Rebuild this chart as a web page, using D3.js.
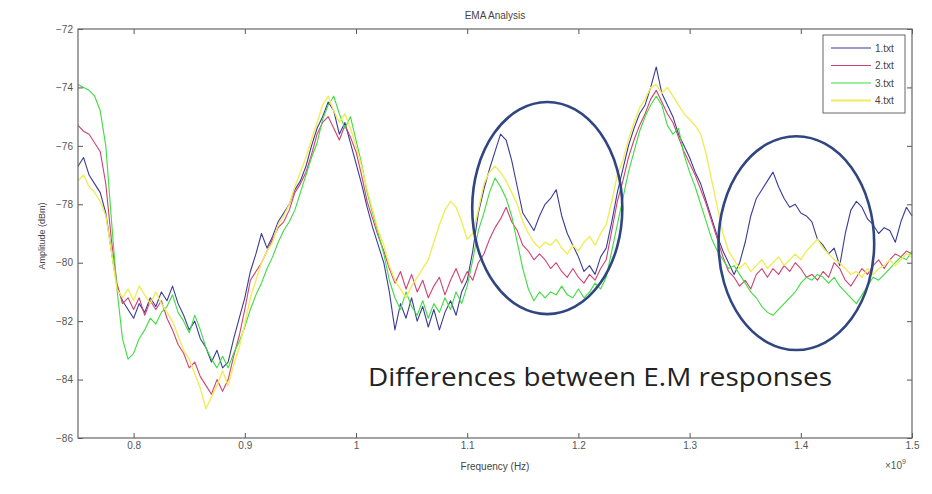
<!DOCTYPE html>
<html>
<head>
<meta charset="utf-8">
<script src="https://cdn.jsdelivr.net/npm/d3@7"></script>
<style>
body { margin: 0; background: #fff; }
text { font-family: "Liberation Sans", Arial, sans-serif; }
</style>
</head>
<body>
<svg id="chart"></svg>
<script>
var w = 932;
var h = 494;

// sampling grid, GHz (shown as x10^9 Hz)
var freqStart = 0.75;
var freqStep = 0.005;

var seriesNames = ['1.txt', '2.txt', '3.txt', '4.txt'];
var seriesColors = ['#3b3b98', '#cf4270', '#3fdc3f', '#f0ec5c'];

var xTicks = [0.8, 0.9, 1, 1.1, 1.2, 1.3, 1.4, 1.5];
var yTicks = [-72, -74, -76, -78, -80, -82, -84, -86];

var s1 = [
  -76.7, -76.4, -77.0, -77.3, -77.6, -78.3, -79.6, -80.8, -81.3, -81.6,
  -81.9, -81.4, -81.7, -81.2, -81.5, -81.0, -81.3, -80.8, -81.4, -81.8,
  -82.3, -82.0, -82.6, -82.9, -83.4, -83.0, -83.6, -83.4, -82.6, -81.9,
  -81.2, -80.3, -79.7, -79.0, -79.5, -79.1, -78.6, -78.3, -78.0, -77.5,
  -77.2, -76.7, -76.0, -75.4, -75.0, -74.5, -74.8, -75.6, -75.2, -75.9,
  -76.6, -77.3, -78.1, -78.8, -79.4, -80.0, -81.0, -82.3, -81.4, -81.9,
  -81.2, -82.0, -81.5, -82.2, -81.6, -82.3, -81.7, -81.3, -81.8, -81.0,
  -80.6, -79.6, -78.3, -77.5, -76.8, -76.2, -75.6, -75.8, -76.5, -77.4,
  -78.3, -78.6, -78.9, -78.4, -78.0, -77.8, -77.5, -78.4, -79.0, -79.4,
  -79.8, -80.3, -80.1, -80.4, -79.8, -79.5, -78.6, -77.6, -76.8, -76.0,
  -75.4, -74.9, -74.6, -74.0, -73.3, -74.2, -74.6, -75.0, -75.6, -76.0,
  -76.4, -76.9, -77.3, -77.9, -78.5, -79.1, -79.6, -80.0, -80.4, -80.0,
  -79.3, -78.4, -77.8, -77.5, -77.2, -76.9, -77.4, -77.8, -78.1, -78.0,
  -78.3, -78.4, -78.6, -79.2, -79.4, -79.7, -79.5, -80.1, -79.0, -78.2,
  -77.9, -78.1, -78.5, -78.7, -79.0, -78.8, -78.9, -79.3, -78.6, -78.1, -78.4
];

var s2 = [
  -75.3, -75.5, -75.6, -75.9, -76.2, -77.3, -79.2, -80.7, -81.4, -81.2,
  -81.6, -81.2, -81.8, -81.3, -81.6, -81.3, -81.9, -82.3, -82.8, -83.1,
  -83.6, -83.4, -83.9, -84.2, -84.5, -84.0, -84.4, -84.0, -83.2, -82.5,
  -81.6, -80.6, -80.3, -80.0, -79.6, -79.2, -78.8, -78.6, -78.2, -77.6,
  -77.3, -76.9, -76.3, -75.6, -75.2, -75.0, -75.4, -75.8, -75.3, -75.7,
  -76.2, -77.0, -77.9, -78.5, -79.1, -79.6, -80.2, -80.7, -80.3, -80.9,
  -80.4, -81.0, -80.6, -81.2, -80.8, -80.5, -81.1, -80.6, -80.2, -80.7,
  -80.3, -80.6, -80.0, -79.7, -79.2, -78.8, -78.5, -78.1, -78.6, -78.9,
  -79.4, -79.6, -79.9, -79.7, -79.9, -80.2, -80.0, -80.3, -80.5, -80.2,
  -80.5, -80.7, -80.4, -80.6, -80.2, -79.9, -78.9, -77.9, -77.2, -76.4,
  -75.8, -75.3, -74.9, -74.4, -74.1, -74.5, -74.9, -75.2, -75.7, -76.2,
  -76.6, -77.0, -77.5, -78.0, -78.6, -79.2, -79.8, -80.3, -80.5, -80.8,
  -80.6, -80.9, -80.4, -80.2, -80.5, -80.2, -80.4, -80.1, -80.3, -80.0,
  -80.2, -80.5, -80.4, -80.6, -80.3, -80.5, -80.0, -80.2, -80.6, -80.8,
  -80.5, -80.2, -80.4, -80.1, -79.9, -80.2, -79.9, -79.7, -79.8, -79.6, -79.7
];

var s3 = [
  -73.9, -74.0, -74.1, -74.3, -74.8, -76.0, -78.5, -80.9, -82.6, -83.3,
  -83.1, -82.6, -82.3, -81.9, -82.1, -81.7, -81.5, -81.1, -81.7, -82.0,
  -82.4, -81.8, -82.3, -82.9, -83.3, -83.6, -83.2, -83.6, -83.1, -82.7,
  -82.2, -81.6, -81.1, -80.7, -80.2, -79.8, -79.3, -78.9, -78.6, -78.2,
  -77.6, -77.0, -76.4, -75.9, -75.1, -74.6, -74.3, -74.9, -75.4, -75.0,
  -75.8, -76.6, -77.6, -78.3, -79.0, -79.7, -80.6, -81.2, -81.6, -81.0,
  -81.5, -81.8, -81.3, -81.9, -81.4, -81.7, -81.2, -81.6, -81.0, -81.4,
  -80.8, -79.9, -78.9, -78.3, -77.6, -77.1, -77.4, -77.8, -78.4, -79.3,
  -80.2, -80.9, -81.3, -81.0, -81.2, -81.0, -81.1, -80.8, -81.1, -81.2,
  -80.9, -81.2, -81.0, -80.7, -80.9, -80.5, -79.6, -78.7, -77.8, -76.9,
  -76.2, -75.5, -75.0, -74.6, -74.3, -74.6, -75.3, -75.6, -75.4, -76.3,
  -76.9, -77.4, -78.0, -78.6, -79.2, -79.6, -79.9, -80.2, -80.1, -80.4,
  -80.7, -81.0, -81.2, -81.5, -81.7, -81.8, -81.6, -81.4, -81.2, -81.0,
  -80.7, -80.5, -80.6, -80.4, -80.5, -80.7, -80.5, -80.8, -81.0, -81.2,
  -81.4, -81.1, -80.8, -80.5, -80.6, -80.4, -80.2, -80.0, -79.8, -79.9, -79.6
];

var s4 = [
  -77.2, -77.0, -77.4, -77.6, -77.9, -78.4, -79.6, -80.9, -81.2, -80.9,
  -81.3, -80.8, -81.1, -81.4, -81.0, -81.4, -81.7, -82.0, -82.5, -83.0,
  -83.3, -83.8, -84.3, -85.0, -84.6, -84.2, -83.7, -84.2, -83.5, -82.9,
  -82.1, -81.2, -80.6, -80.0, -79.6, -79.3, -78.7, -78.4, -78.0, -77.4,
  -76.9, -76.4, -75.8, -75.2, -74.6, -74.3, -74.8, -75.2, -74.9, -75.4,
  -76.0, -76.7, -77.5, -78.2, -78.9, -79.4, -80.1, -80.6, -80.9, -81.2,
  -80.8, -80.5, -80.2, -79.9, -79.3, -78.7, -78.2, -77.9, -78.1, -78.6,
  -79.2, -79.0, -78.2, -77.3, -76.9, -76.7, -76.9, -77.2, -77.6, -78.0,
  -78.6, -79.0, -79.3, -79.5, -79.3, -79.4, -79.2, -79.5, -79.7, -79.4,
  -79.6, -79.3, -79.1, -79.4, -79.0, -78.7, -77.9, -77.0, -76.5, -75.8,
  -75.2, -74.7, -74.4, -74.0, -73.9, -74.2, -74.0, -74.3, -74.6, -74.9,
  -75.1, -75.3, -75.6, -76.3, -77.2, -78.1, -79.0, -79.6, -79.9, -80.2,
  -80.0, -80.3, -80.1, -79.9, -80.2, -80.0, -79.8, -80.1, -79.9, -79.7,
  -79.9, -79.6, -79.4, -79.2, -79.5, -79.7, -79.9, -80.0, -80.2, -80.4,
  -80.3, -80.5, -80.2, -80.4, -80.2, -80.1, -79.9, -80.1, -79.9, -79.7, -79.8
];

// annotation ellipses, in data units: [centre freq, centre dBm, half width, half height]
var marks = [
  [1.172, -78.13, 0.0675, 3.63],
  [1.396, -79.33, 0.070, 3.66]
];

var allSeries = [s1, s2, s3, s4];

var svg = d3.select('#chart')
  .attr('width', w)
  .attr('height', h);

svg.append('rect').attr('width', w).attr('height', h).attr('fill', '#fff');

var padL = 78, padR = 912, padT = 29, padB = 438;

var x = d3.scaleLinear().domain([0.75, 1.5]).range([padL, padR]);
var y = d3.scaleLinear().domain([-86, -72]).range([padB, padT]);

var line = d3.line()
  .x(function (d, i) { return x(freqStart + i * freqStep); })
  .y(function (d) { return y(d); });

var plot = svg.append('g');

plot.selectAll('path.trace')
  .data(allSeries)
.enter().append('path')
  .attr('class', 'trace')
  .attr('d', line)
  .attr('fill', 'none')
  .attr('stroke', function (d, i) { return seriesColors[i]; })
  .attr('stroke-width', function (d, i) { return i === 3 ? 1.4 : 1.1; })
  .attr('stroke-linejoin', 'round');

// axes, ticks pointing inwards like matlab
function styleAxis(g) {
  g.select('.domain').remove();
  g.selectAll('line').attr('stroke', '#555');
  g.selectAll('text').attr('fill', '#555').style('font-size', '10px');
}

svg.append('g')
  .attr('transform', 'translate(0,' + padB + ')')
  .call(d3.axisBottom(x).tickValues(xTicks).tickSize(-5).tickPadding(4).tickFormat(d3.format('')))
  .call(styleAxis);

svg.append('g')
  .attr('transform', 'translate(0,' + padT + ')')
  .call(d3.axisTop(x).tickValues(xTicks).tickSize(-5).tickFormat(''))
  .call(styleAxis);

svg.append('g')
  .attr('transform', 'translate(' + padL + ',0)')
  .call(d3.axisLeft(y).tickValues(yTicks).tickSize(-5).tickPadding(5))
  .call(styleAxis);

svg.append('g')
  .attr('transform', 'translate(' + padR + ',0)')
  .call(d3.axisRight(y).tickValues(yTicks).tickSize(-5).tickFormat(''))
  .call(styleAxis);

svg.append('rect')
  .attr('x', padL).attr('y', padT)
  .attr('width', padR - padL).attr('height', padB - padT)
  .attr('fill', 'none').attr('stroke', '#666').attr('stroke-width', 1.2);

// titles
svg.append('text')
  .attr('x', (padL + padR) / 2).attr('y', 19)
  .attr('text-anchor', 'middle').attr('fill', '#444')
  .style('font-size', '10px')
  .text('EMA Analysis');

svg.append('text')
  .attr('x', (padL + padR) / 2).attr('y', 470)
  .attr('text-anchor', 'middle').attr('fill', '#444')
  .style('font-size', '10px')
  .text('Frequency (Hz)');

svg.append('text')
  .attr('transform', 'translate(45,236) rotate(-90)')
  .attr('text-anchor', 'middle').attr('fill', '#444')
  .style('font-size', '9px')
  .text('Amplitude (dBm)');

var expo = svg.append('text')
  .attr('x', 885).attr('y', 469)
  .attr('fill', '#555')
  .style('font-size', '10px');
expo.append('tspan').text('\u00d710');
expo.append('tspan').attr('dy', -5).style('font-size', '7px').text('9');

// legend
var legend = svg.append('g').attr('transform', 'translate(823,35)');
legend.append('rect')
  .attr('width', 82).attr('height', 78)
  .attr('fill', '#fff').attr('stroke', '#666');

var items = legend.selectAll('g.item')
  .data(seriesNames)
.enter().append('g')
  .attr('class', 'item')
  .attr('transform', function (d, i) { return 'translate(0,' + (13 + i * 17.5) + ')'; });

items.append('line')
  .attr('x1', 8).attr('x2', 48)
  .attr('stroke', function (d, i) { return seriesColors[i]; })
  .attr('stroke-width', function (d, i) { return i === 3 ? 2 : 1.2; });

items.append('text')
  .attr('x', 52).attr('dy', '0.35em')
  .attr('fill', '#444')
  .style('font-size', '10px')
  .text(function (d) { return d; });

// annotation
svg.selectAll('ellipse.mark')
  .data(marks)
.enter().append('ellipse')
  .attr('class', 'mark')
  .attr('cx', function (d) { return x(d[0]); })
  .attr('cy', function (d) { return y(d[1]); })
  .attr('rx', function (d) { return x(d[0] + d[2]) - x(d[0]); })
  .attr('ry', function (d) { return y(d[1] - d[3]) - y(d[1]); })
  .attr('fill', 'none')
  .attr('stroke', '#2f4680')
  .attr('stroke-width', 2.6);

svg.append('text')
  .attr('x', 368).attr('y', 386)
  .attr('fill', '#222')
  .style('font-family', '"Open Sans", sans-serif')
  .style('font-size', '26px')
  .attr('textLength', 464)
  .attr('lengthAdjust', 'spacingAndGlyphs')
  .text('Differences between E.M responses');
</script>
</body>
</html>
